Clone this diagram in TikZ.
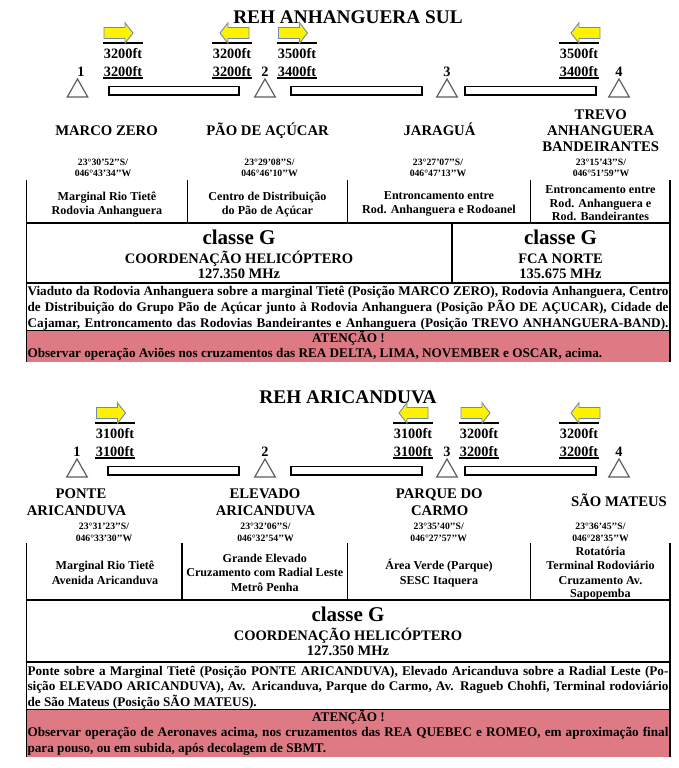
\documentclass[tikz,border=0pt]{standalone}
\usepackage{fontspec}
\setmainfont{Liberation Serif}
\definecolor{redbox}{RGB}{222,122,132}
\definecolor{arrline}{RGB}{110,140,175}
\definecolor{trigray}{RGB}{95,95,95}
\newcommand\altR[5]{%
  \draw[ovl] (#2,43.3) -- ++(40,0);
  \draw[ovl] (#2,78.3) -- ++(40,0);
  \node[ftl] (#1a) at ({#2+20},58.3) {#4};
  \node[ftl] (#1b) at ({#2+20},76) {#5};
  \draw[arr] (#3,27.5) -- ++(21,0) -- ++(0,-4.8) -- ++(8,10.3) -- ++(-8,10.3) -- ++(0,-4.8) -- ++(-21,0) -- cycle;}
\newcommand\altL[5]{%
  \draw[ovl] (#2,43.3) -- ++(40,0);
  \draw[ovl] (#2,78.3) -- ++(40,0);
  \node[ftl] (#1a) at ({#2+20},58.3) {#4};
  \node[ftl] (#1b) at ({#2+20},76) {#5};
  \draw[arr] (#3,33) -- ++(8,-10.3) -- ++(0,4.8) -- ++(21,0) -- ++(0,11) -- ++(-21,0) -- ++(0,4.8) -- cycle;}
\newcommand\mytri[1]{\draw[tri] ({#1-10.25},97) -- (#1,79) -- ({#1+10.25},97) -- cycle;}
\begin{document}
\begin{tikzpicture}[x=1pt,y=-1pt,
  every node/.style={inner sep=0pt, outer sep=0pt},
  tt/.style={font=\fontsize{19.3}{22}\selectfont\bfseries, anchor=base},
  nm/.style={font=\fontsize{14.7}{17}\selectfont\bfseries, anchor=base},
  ftl/.style={font=\fontsize{14.3}{17}\selectfont\bfseries, anchor=base},
  crd/.style={font=\fontsize{9.7}{11}\selectfont\bfseries, anchor=base},
  cel/.style={font=\fontsize{12.1}{14}\selectfont\bfseries, anchor=base},
  cls/.style={font=\fontsize{21}{24}\selectfont\bfseries, anchor=base},
  sub/.style={font=\fontsize{14.5}{17}\selectfont\bfseries, anchor=base},
  dsc/.style={font=\fontsize{13.2}{16}\selectfont\bfseries, anchor=base west},
  dscc/.style={font=\fontsize{13.2}{16}\selectfont\bfseries, anchor=base},
  arr/.style={fill=yellow, draw=arrline, line width=0.9pt, line join=miter},
  ovl/.style={line width=2pt},
  tri/.style={draw=trigray, fill=white, line width=1.2pt, line join=miter},
  barbox/.style={draw=black, fill=white, line width=1.1pt},
  tbl/.style={line width=1.2pt},
]
\useasboundingbox (0,0) rectangle (679,768);
\fill[white] (0,0) rectangle (679,768);

% ================= SECTION 1 =================
\node[tt] (ttl1) at (348,23.4) {REH ANHANGUERA SUL};
\altR{ga}{103}{104}{3200ft}{3200ft}
\altL{gb}{212}{220}{3200ft}{3200ft}
\altR{gc}{277}{278.5}{3500ft}{3400ft}
\altL{gd}{559}{571}{3500ft}{3400ft}
\node[ftl] (na1) at (81,76) {1};
\node[ftl] (na2) at (265,76) {2};
\node[ftl] (na3) at (447,76) {3};
\node[ftl] (na4) at (619,76) {4};
\mytri{77.5}\mytri{265}\mytri{447}\mytri{619}
\draw[barbox] (109,86.5) rectangle (239,95);
\draw[barbox] (291,86.5) rectangle (422,95);
\draw[barbox] (465,86.5) rectangle (596,95);

\node[nm] (ma) at (106.5,135) {MARCO ZERO};
\node[nm] (mb) at (267.5,135) {PÃO DE AÇÚCAR};
\node[nm] (mc) at (439.5,135) {JARAGUÁ};
\node[nm] (md1) at (600.7,119) {TREVO};
\node[nm] (md2) at (600.7,135) {ANHANGUERA};
\node[nm] (md3) at (600.7,151.5) {BANDEIRANTES};

\node[crd] (ca1) at (103,165.3) {23°30’52’’S/};
\node[crd] (ca2) at (103,176.5) {046°43’34’’W};
\node[crd] (cb1) at (269.5,165.3) {23°29’08’’S/};
\node[crd] (cb2) at (269.5,176.5) {046°46’10’’W};
\node[crd] (cc1) at (438,165.3) {23°27’07’’S/};
\node[crd] (cc2) at (438,176.5) {046°47’13’’W};
\node[crd] (cd1) at (601,165.3) {23°15’43’’S/};
\node[crd] (cd2) at (601,176.5) {046°51’59’’W};

\fill[redbox] (26.5,330.3) rectangle (670,361.5);
\draw[tbl] (26.5,180) -- (26.5,361.5);
\draw[tbl] (670,180) -- (670,361.5);
\draw[tbl] (187.5,180) -- (187.5,223);
\draw[tbl] (347.5,180) -- (347.5,223);
\draw[tbl] (530.5,180) -- (530.5,223);
\draw[tbl] (26.5,223) -- (670,223);
\draw[tbl] (452,223) -- (452,283);
\draw[tbl] (26.5,283) -- (670,283);
\draw[tbl] (26.5,330.3) -- (670,330.3);

\node[cel] (ea1) at (107,200.5) {Marginal Rio Tietê};
\node[cel] (ea2) at (107,214.3) {Rodovia Anhanguera};
\node[cel] (eb1) at (267.5,200.5) {Centro de Distribuição};
\node[cel] (eb2) at (267.5,214.3) {do Pão de Açúcar};
\node[cel] (ec1) at (439,199.5) {Entroncamento entre};
\node[cel] (ec2) at (439,213.5) {Rod. Anhanguera e Rodoanel};
\node[cel] (ed1) at (600.5,193) {Entroncamento entre};
\node[cel] (ed2) at (600.5,207) {Rod. Anhanguera e};
\node[cel] (ed3) at (600.5,220.5) {Rod. Bandeirantes};

\node[cls] (fa1) at (239,244) {classe G};
\node[sub] (fa2) at (239,263) {COORDENAÇÃO HELICÓPTERO};
\node[sub] (fa3) at (239,278) {127.350 MHz};
\node[cls] (fb1) at (560.5,244) {classe G};
\node[sub] (fb2) at (560.5,263) {FCA NORTE};
\node[sub] (fb3) at (560.5,278) {135.675 MHz};

\node[dsc] (da1) at (27.5,295.3) {\makebox[641pt][s]{Viaduto da Rodovia Anhanguera sobre a marginal Tietê (Posição MARCO ZERO), Rodovia Anhanguera, Centro}};
\node[dsc] (da2) at (27.5,311) {\makebox[641pt][s]{de Distribuição do Grupo Pão de Açúcar junto à Rodovia Anhanguera (Posição PÃO DE AÇUCAR), Cidade de}};
\node[dsc] (da3) at (27.5,327) {\makebox[641pt][s]{Cajamar, Entroncamento das Rodovias Bandeirantes e Anhanguera (Posição TREVO ANHANGUERA-BAND).}};
\node[dscc] (ra1) at (348.5,342) {ATENÇÃO !};
\node[dsc] (ra2) at (27.5,357.3) {Observar operação Aviões nos cruzamentos das REA DELTA, LIMA, NOVEMBER e OSCAR, acima.};

% ================= SECTION 2 =================
\node[tt] (ttl2) at (348,403.3) {REH ARICANDUVA};
\begin{scope}[shift={(0,380)}]
\altR{gh}{95}{96.5}{3100ft}{3100ft}
\altL{gi}{393}{399}{3100ft}{3100ft}
\altR{gj}{459}{461}{3200ft}{3200ft}
\altL{gk}{559}{571}{3200ft}{3200ft}
\node[ftl] (nb1) at (77,76) {1};
\node[ftl] (nb2) at (265,76) {2};
\node[ftl] (nb3) at (447,76) {3};
\node[ftl] (nb4) at (619,76) {4};
\mytri{77}\mytri{265}\mytri{447}\mytri{619}
\draw[barbox] (108,86.5) rectangle (239,95);
\draw[barbox] (291,86.5) rectangle (422,95);
\draw[barbox] (465,86.5) rectangle (596,95);
\end{scope}

\node[nm] (pa1) at (81,498.3) {PONTE};
\node[nm] (pa2) at (76.5,515) {ARICANDUVA};
\node[nm] (pb1) at (265,498.3) {ELEVADO};
\node[nm] (pb2) at (265.5,515) {ARICANDUVA};
\node[nm] (pc1) at (439.3,498.3) {PARQUE DO};
\node[nm] (pc2) at (439.7,515) {CARMO};
\node[nm] (pd1) at (619,506) {SÃO MATEUS};

\node[crd] (qa1) at (104,529.5) {23°31’23’’S/};
\node[crd] (qa2) at (104,541) {046°33’30’’W};
\node[crd] (qb1) at (265.5,529.5) {23°32’06’’S/};
\node[crd] (qb2) at (265.5,541) {046°32’54’’W};
\node[crd] (qc1) at (438.7,529.5) {23°35’40’’S/};
\node[crd] (qc2) at (438.7,541) {046°27’57’’W};
\node[crd] (qd1) at (600.5,529.5) {23°36’45’’S/};
\node[crd] (qd2) at (600.5,541) {046°28’35’’W};

\fill[redbox] (26.5,709.5) rectangle (670,756.5);
\draw[tbl] (26.5,543) -- (26.5,756.5);
\draw[tbl] (670,543) -- (670,756.5);
\draw[tbl] (182,543) -- (182,600);
\draw[tbl] (347.5,543) -- (347.5,600);
\draw[tbl] (530.5,543) -- (530.5,600);
\draw[tbl] (26.5,600) -- (670,600);
\draw[tbl] (26.5,662) -- (670,662);
\draw[tbl] (26.5,709.5) -- (670,709.5);

\node[cel] (sa1) at (105,569.3) {Marginal Rio Tietê};
\node[cel] (sa2) at (105,584) {Avenida Aricanduva};
\node[cel] (sb1) at (264.8,562.7) {Grande Elevado};
\node[cel] (sb2) at (264.8,576.7) {Cruzamento com Radial Leste};
\node[cel] (sb3) at (264.8,591) {Metrô Penha};
\node[cel] (sc1) at (439,569.3) {Área Verde (Parque)};
\node[cel] (sc2) at (439,584) {SESC Itaquera};
\node[cel] (sd1) at (600.5,555.7) {Rotatória};
\node[cel] (sd2) at (600.5,569.9) {Terminal Rodoviário};
\node[cel] (sd3) at (600.5,584) {Cruzamento Av.};
\node[cel] (sd4) at (600.5,597.5) {Sapopemba};

\node[cls] (ha1) at (348,621) {classe G};
\node[sub] (ha2) at (348,640) {COORDENAÇÃO HELICÓPTERO};
\node[sub] (ha3) at (348,655.5) {127.350 MHz};

\node[dsc] (db1) at (27.5,675) {\makebox[641pt][s]{Ponte sobre a Marginal Tietê (Posição PONTE ARICANDUVA), Elevado Aricanduva sobre a Radial Leste (Po-}};
\node[dsc] (db2) at (27.5,690.7) {\makebox[641pt][s]{sição ELEVADO ARICANDUVA), Av. Aricanduva, Parque do Carmo, Av. Ragueb Chohfi, Terminal rodoviário}};
\node[dsc] (db3) at (27.5,706.2) {de São Mateus (Posição SÃO MATEUS).};
\node[dscc] (rb1) at (348.5,721) {ATENÇÃO !};
\node[dsc] (rb2) at (27.5,736.5) {\makebox[641pt][s]{Observar operação de Aeronaves acima, nos cruzamentos das REA QUEBEC e ROMEO, em aproximação final}};
\node[dsc] (rb3) at (27.5,752) {para pouso, ou em subida, após decolagem de SBMT.};
\end{tikzpicture}
\end{document}
